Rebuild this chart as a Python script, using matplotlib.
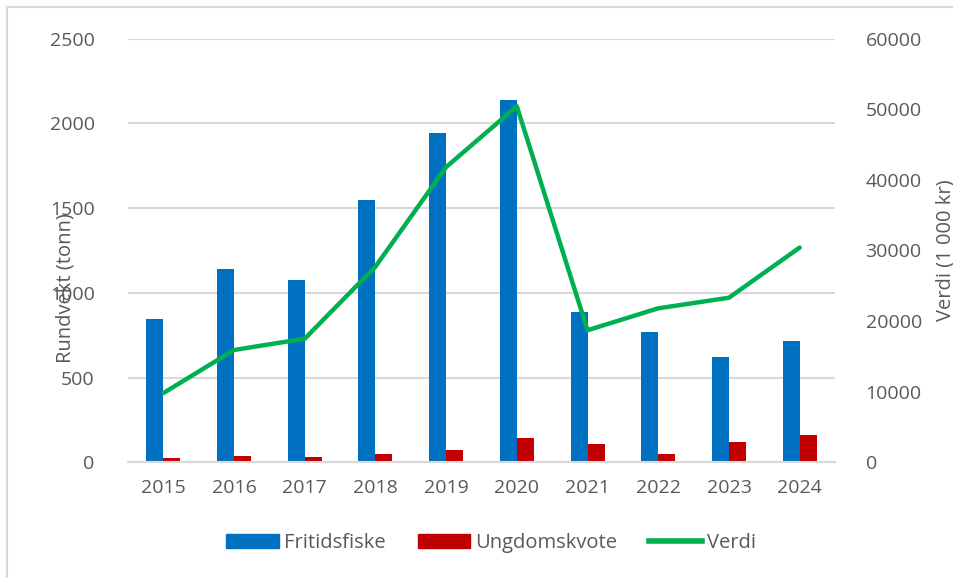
import matplotlib
matplotlib.use("Agg")
import matplotlib.pyplot as plt
from matplotlib.lines import Line2D
import numpy as np

years = ["2015", "2016", "2017", "2018", "2019", "2020", "2021", "2022", "2023", "2024"]
fritidsfiske = [843, 1141, 1077, 1545, 1942, 2136, 886, 768, 619, 717]
ungdomskvote = [25, 37, 29, 47, 72, 143, 106, 47, 118, 159]
verdi = [9800, 15900, 17500, 27700, 41800, 50400, 18700, 21800, 23300, 30400]

left_ticks = [0, 500, 1000, 1500, 2000, 2500]
right_ticks = [0, 10000, 20000, 30000, 40000, 50000, 60000]

blue = "#0070C0"
red = "#C00000"
green = "#00B050"
txt = "#595959"
grid = "#D9D9D9"

plt.rcParams["font.family"] = ["Open Sans", "DejaVu Sans"]

fig = plt.figure(figsize=(9.54, 5.78), dpi=100)
ax = fig.add_axes([128/954, 1-462.3/578, (835-128)/954, (462.3-38.5)/578])
ax2 = ax.twinx()

x = np.arange(len(years))
w = 0.24
ax.bar(x - w/2, fritidsfiske, width=w, color=blue, zorder=2, label="Fritidsfiske")
ax.bar(x + w/2, ungdomskvote, width=w, color=red, zorder=2, label="Ungdomskvote")
ax2.plot(x, verdi, color=green, lw=3.2, solid_capstyle="round", solid_joinstyle="round", label="Verdi")

ax.set_xlim(-0.5, len(years) - 0.5)
ax.set_ylim(0, 2500)
ax2.set_ylim(0, 60000)
ax.set_yticks(left_ticks)
ax2.set_yticks(right_ticks)
ax.set_xticks(x)
ax.set_xticklabels(years)

ax.grid(axis="y", color=grid, lw=1.5, zorder=0)
ax.set_axisbelow(True)
for a in (ax, ax2):
    for s in a.spines.values():
        s.set_visible(False)
ax.spines["bottom"].set_visible(True)
ax.spines["bottom"].set_color(grid)
ax.spines["bottom"].set_linewidth(1.5)

ax.tick_params(axis="y", length=0, pad=24, labelsize=14, labelcolor=txt)
ax2.tick_params(axis="y", length=0, pad=22, labelsize=14, labelcolor=txt)
ax.tick_params(axis="x", length=0, pad=12, labelsize=14, labelcolor=txt)

ax.text(-0.089, 0.411, "Rundvekt (tonn)", transform=ax.transAxes, rotation=90,
        ha="center", va="center", fontsize=14.5, color=txt)
ax2.set_ylabel("Verdi (1 000 kr)", fontsize=14.5, color=txt, labelpad=10)

handles = [
    plt.Rectangle((0, 0), 1, 1, color=blue),
    plt.Rectangle((0, 0), 1, 1, color=red),
    Line2D([0], [0], color=green, lw=4),
]
leg = fig.legend(handles, ["Fritidsfiske", "Ungdomskvote", "Verdi"], loc="center",
                 bbox_to_anchor=(491/954, 1-543/578), ncol=3, frameon=False,
                 fontsize=14.5, handlelength=2.6, handleheight=0.7, handletextpad=0.25,
                 columnspacing=1.6)
for t in leg.get_texts():
    t.set_color(txt)

# chart border (top and left visible)
fig.add_artist(Line2D([7/954, 1], [1-6.5/578, 1-6.5/578], transform=fig.transFigure, color=grid, lw=1.5))
fig.add_artist(Line2D([7/954, 7/954], [0, 1-6.5/578], transform=fig.transFigure, color=grid, lw=1.5))

fig.savefig("out.png", dpi=100)
